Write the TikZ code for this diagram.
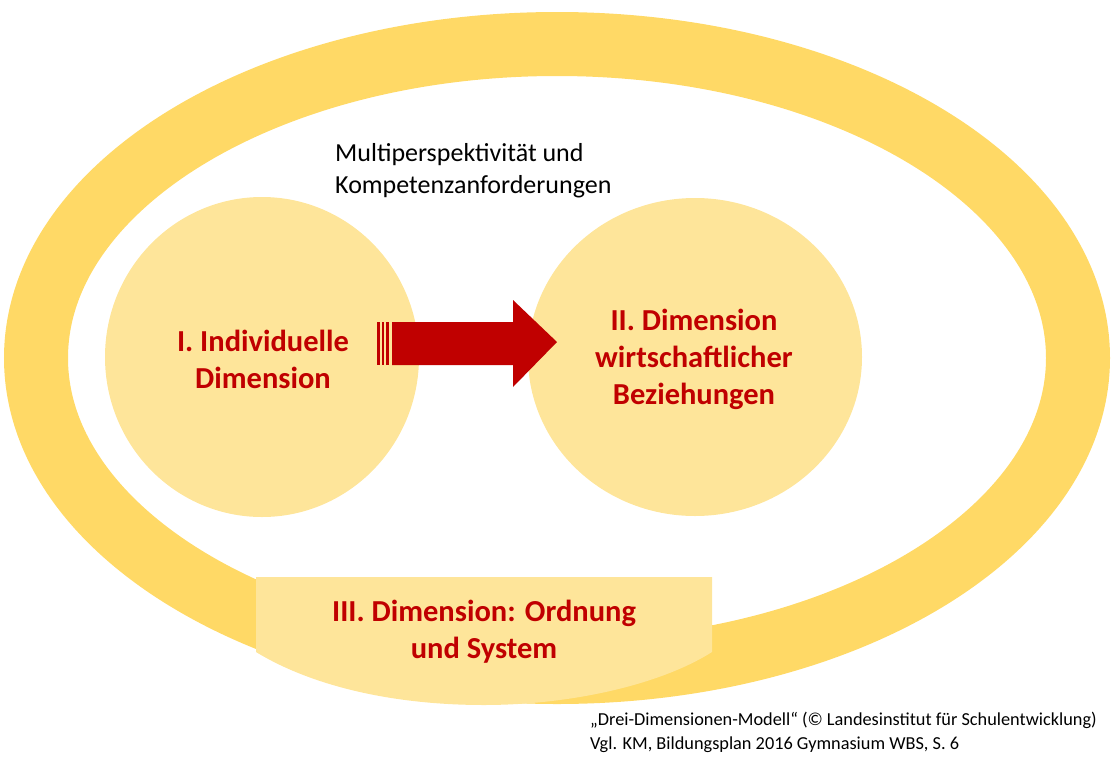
\documentclass[tikz,border=0pt]{standalone}
\usepackage{fontspec}
\setmainfont{Carlito}
\begin{document}
\begin{tikzpicture}[x=1pt,y=-1pt,
  dimtext/.style={text=dred,font=\bfseries\fontsize{30.5}{37}\selectfont,align=center},
  circ/.style={fill=lightyel,draw=none,ellipse}]
\definecolor{ringyel}{HTML}{FFD966}
\definecolor{lightyel}{HTML}{FEE59A}
\definecolor{dred}{HTML}{C00000}
\useasboundingbox (0,0) rectangle (1120,766);
\draw[ringyel,line width=64pt] (557,358) ellipse [x radius=521,y radius=314];
\fill[lightyel] (262,357) ellipse [x radius=157,y radius=160];
\fill[lightyel] (695,357) ellipse [x radius=167,y radius=159];
\node[dimtext] (d1) at (263,359) {I. Individuelle\\Dimension};
\node[dimtext] (d2) at (694,359) {II. Dimension\\wirtschaftlicher\\Beziehungen};
% bottom box
\fill[lightyel] (256,577) -- (712,577) -- (712,652) .. controls (660,685) and (570,705) .. (484,705) .. controls (390,705) and (310,685) .. (256,652) -- cycle;
\node[dimtext] (d3) at (484,632) {III. Dimension: Ordnung\\und System};
% arrow
\fill[dred] (392,322) -- (513,322) -- (513,300) -- (557,342) -- (513,387) -- (513,365) -- (392,365) -- cycle;
\fill[dred] (377,322) rectangle (379.5,365);
\fill[dred] (381.5,322) rectangle (384,365);
\fill[dred] (386,322) rectangle (389,365);
\node[anchor=north west,align=left,font=\fontsize{26}{32}\selectfont,inner sep=0] (mp) at (335,143) {Multiperspektivität und\\Kompetenzanforderungen};
\node[anchor=north west,align=left,font=\fontsize{18.3}{24}\selectfont,inner sep=0] (src) at (590,712) {„Drei-Dimensionen-Modell“ (© Landesinstitut für Schulentwicklung)\\Vgl. KM, Bildungsplan 2016 Gymnasium WBS, S. 6};
\end{tikzpicture}
\end{document}
